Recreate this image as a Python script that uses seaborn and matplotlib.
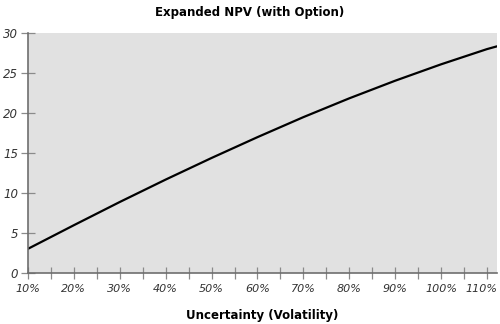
import matplotlib
matplotlib.use("Agg")
import matplotlib.pyplot as plt
import matplotlib.transforms as mtransforms
import seaborn as sns
import pandas as pd

# Expanded NPV of the project (with option) against volatility
volatility = [10, 20, 30, 40, 50, 60, 70, 80, 90, 100, 110, 112.2]
npv = [3.0, 5.95, 8.85, 11.65, 14.35, 16.95, 19.45, 21.8, 24.0, 26.05, 27.95, 28.3]
x_ticks = [10, 20, 30, 40, 50, 60, 70, 80, 90, 100, 110]
x_tick_labels = [f"{v}%" for v in x_ticks]
y_ticks = [0, 5, 10, 15, 20, 25, 30]

df = pd.DataFrame({"volatility": volatility, "npv": npv})

sns.set_style("white")
plt.rcParams["font.family"] = ["DejaVu Sans"]
plt.rcParams["xtick.bottom"] = True
plt.rcParams["ytick.left"] = True

fig = plt.figure(figsize=(5.0, 3.24), dpi=100)
ax = fig.add_axes([0.056, 0.158, 0.938, 0.741])
ax.set_facecolor("#e1e1e1")

sns.lineplot(data=df, x="volatility", y="npv", ax=ax, color="black",
             linewidth=1.6, estimator=None)

ax.set_xlim(10, 112.2)
ax.set_ylim(0, 30)
ax.set_xticks(x_ticks)
ax.set_xticklabels(x_tick_labels)
ax.set_xticks([v + 5 for v in x_ticks[:-1]], minor=True)
ax.set_yticks(y_ticks)

for side in ("top", "right"):
    ax.spines[side].set_visible(False)
for side in ("left", "bottom"):
    ax.spines[side].set_color("#6e6e6e")
    ax.spines[side].set_linewidth(1.2)

ax.tick_params(axis="both", which="both", bottom=True, left=True,
               direction="inout", length=8, width=0.9, color="#8a8a8a",
               labelcolor="#333333", labelsize=8, pad=4)
ax.tick_params(axis="y", length=10, pad=2, labelsize=8.5)
for lbl in ax.get_xticklabels() + ax.get_yticklabels():
    lbl.set_fontstyle("italic")

# nudge the last x label so it stays inside the figure
last = ax.get_xticklabels()[-1]
last.set_transform(last.get_transform() +
                   mtransforms.ScaledTranslation(-4 / 72, 0, fig.dpi_scale_trans))

ax.set_xlabel("Uncertainty (Volatility)", fontsize=8.5, fontweight="bold",
              labelpad=11, color="black")
ax.set_ylabel("")
fig.suptitle("Expanded NPV (with Option)", fontsize=8.5, fontweight="bold",
             y=0.98, x=0.5, color="black")

fig.savefig("out.png", dpi=100)
